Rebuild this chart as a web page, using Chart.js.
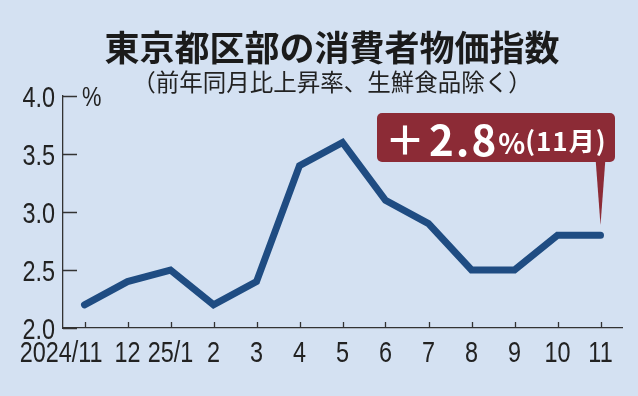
<!DOCTYPE html>
<html lang="ja">
<head>
<meta charset="utf-8">
<title>東京都区部の消費者物価指数</title>
<script src="https://cdn.jsdelivr.net/npm/chart.js@4.4.1/dist/chart.umd.min.js"></script>
<style>
  body { margin: 0; background: #d4e1f2; }
  .wrap { position: relative; width: 638px; height: 396px; background: #d4e1f2; overflow: hidden; }
  .wrap canvas { position: absolute; left: 0; top: 0; }
  .title {
    position: absolute; left: 0; top: 25px; width: 664px; text-align: center;
    font: 700 35px/42px 'Noto Sans CJK JP', sans-serif; color: #1b1b1b; margin: 0;
  }
  .subtitle {
    position: absolute; left: 0; top: 67px; width: 664px; text-align: center;
    font: 400 23.5px/28px 'Noto Sans CJK JP', sans-serif; color: #222; margin: 0;
  }
  .callout {
    position: absolute; left: 377px; top: 113px; width: 238px; height: 49px;
    background: #8c2b36; border-radius: 5px; color: #fff;
    display: flex; align-items: center; padding-left: 8px; box-sizing: border-box;
    font-family: 'Noto Sans CJK JP', sans-serif; font-weight: 700; white-space: nowrap;
  }
  .callout .plus { font-size: 40px; margin-right: 4px; }
  .callout .val { font-size: 42px; letter-spacing: 2px; }
  .callout .pct { font-size: 28px; margin-top: 8px; }
  .callout .month { font-size: 26px; margin-top: 4px; letter-spacing: 1px; }
</style>
</head>
<body>
<div class="wrap">
  <canvas id="cpiChart" width="638" height="396"></canvas>
  <h1 class="title">東京都区部の消費者物価指数</h1>
  <p class="subtitle">（前年同月比上昇率、生鮮食品除く）</p>
  <div class="callout"><span class="plus">＋</span><span class="val">2.8</span><span class="pct">%</span><span class="month">(11月)</span></div>
</div>
<script>
const months = ['2024/11', '12', '25/1', '2', '3', '4', '5', '6', '7', '8', '9', '10', '11'];
const cpiRate = [2.2, 2.4, 2.5, 2.2, 2.4, 3.4, 3.6, 3.1, 2.9, 2.5, 2.5, 2.8, 2.8];
const yTicks = [2.0, 2.5, 3.0, 3.5, 4.0];

const labelFont = '30px "Liberation Sans", Arial, sans-serif';
const squeeze = 0.78; // the reference uses a condensed face
const axisColor = '#333';
const calloutColor = '#8c2b36';

// condensed text without a condensed font
function narrowText(ctx, text, x, y, align) {
    ctx.save();
    ctx.translate(x, y);
    ctx.scale(squeeze, 1);
    ctx.textAlign = align;
    ctx.fillText(text, 0, 0);
    ctx.restore();
}

// inward tick marks, axis labels, unit and the callout pointer
const axisMarks = {
    id: 'axisMarks',
    afterDraw(chart) {
        const { ctx, chartArea, scales: { x, y } } = chart;
        ctx.save();
        ctx.strokeStyle = axisColor;
        ctx.lineWidth = 1.3;
        ctx.beginPath();
        y.ticks.forEach(t => {
            const py = Math.round(y.getPixelForValue(t.value)) + 0.5;
            ctx.moveTo(chartArea.left, py);
            ctx.lineTo(chartArea.left + 14, py);
        });
        months.forEach((m, i) => {
            const px = Math.round(x.getPixelForValue(i)) + 0.5;
            ctx.moveTo(px, chartArea.bottom);
            ctx.lineTo(px, chartArea.bottom - 6);
        });
        ctx.stroke();

        ctx.fillStyle = '#222';
        ctx.font = labelFont;
        ctx.textBaseline = 'alphabetic';
        y.ticks.forEach(t => {
            narrowText(ctx, t.value.toFixed(1), chartArea.left - 8, y.getPixelForValue(t.value) + 11, 'right');
        });
        months.forEach((m, i) => {
            const px = x.getPixelForValue(i);
            if (i === 0) {
                narrowText(ctx, m, px + 18, chartArea.bottom + 34, 'right');
            } else {
                narrowText(ctx, m, px, chartArea.bottom + 34, 'center');
            }
        });

        ctx.font = '28px "Liberation Sans", Arial, sans-serif';
        narrowText(ctx, '%', chartArea.left + 19, y.getPixelForValue(yTicks[yTicks.length - 1]) + 10, 'left');

        const meta = chart.getDatasetMeta(0);
        const last = meta.data[meta.data.length - 1];
        ctx.fillStyle = calloutColor;
        ctx.beginPath();
        ctx.moveTo(last.x - 5, 158);
        ctx.lineTo(last.x + 5, 158);
        ctx.lineTo(last.x, last.y - 10);
        ctx.closePath();
        ctx.fill();
        ctx.restore();
    }
};

const ctx = document.getElementById('cpiChart').getContext('2d');
new Chart(ctx, {
    type: 'line',
    data: {
        labels: months,
        datasets: [{
            data: cpiRate,
            borderColor: '#1f4c82',
            borderWidth: 7,
            borderJoinStyle: 'miter',
            borderCapStyle: 'round',
            pointRadius: 0,
            tension: 0,
            fill: false,
            clip: false,
        }],
    },
    options: {
        responsive: false,
        animation: false,
        layout: { padding: { top: 96, right: 16, left: 0, bottom: 0 } },
        plugins: {
            legend: { display: false },
            tooltip: { enabled: false },
        },
        scales: {
            x: {
                type: 'category',
                offset: true,
                grid: { display: false, drawTicks: false, offset: false },
                border: { display: true, color: axisColor, width: 1.3 },
                ticks: { display: false },
                afterFit: s => { s.height = 68; },
            },
            y: {
                min: 2,
                max: 4,
                afterBuildTicks: s => { s.ticks = yTicks.map(v => ({ value: v })); },
                grid: { display: false, drawTicks: false },
                border: { display: true, color: axisColor, width: 1.3 },
                ticks: { display: false },
                afterFit: s => { s.width = 63; },
            },
        },
    },
    plugins: [axisMarks],
});
</script>
</body>
</html>
